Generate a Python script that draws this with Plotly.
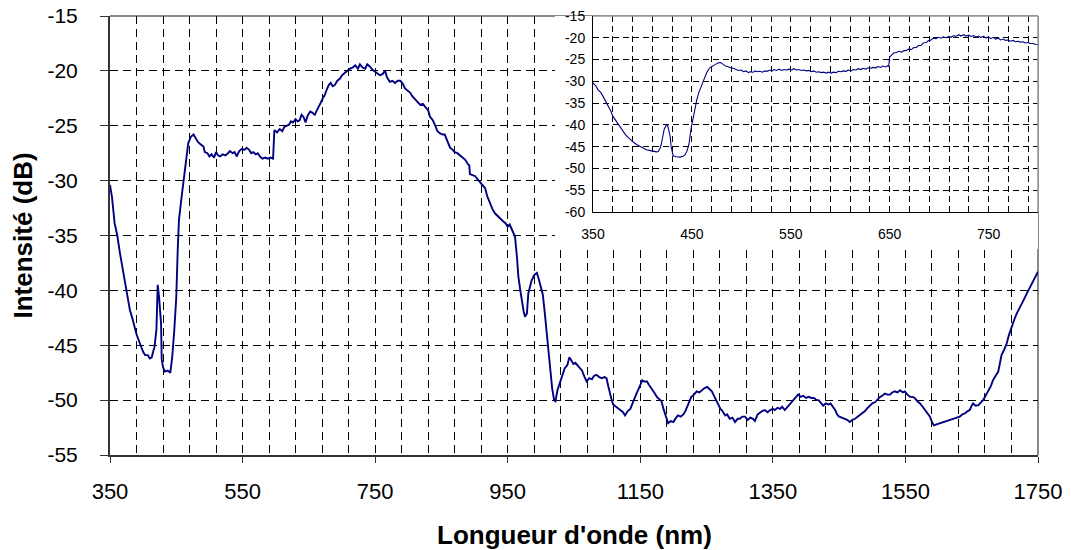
import plotly.graph_objects as go

# ---- main spectrum ----
main_nm = [350,353,357,361,365,369,373,377,380,384,387,390,393,397,400,403,407,410,413,415,417,420,422,424,427,428,430,433,437,441,444,447,450,452,454,458,462,465,468,472,476,480,483,487,491,493,497,500,503,507,510,513,516,520,524,528,531,535,538,541,545,549,553,556,560,563,566,570,573,576,580,584,588,592,596,598,602,606,610,613,616,620,623,626,630,633,636,639,642,645,648,652,655,659,662,665,668,671,674,677,680,683,686,689,693,697,700,704,708,712,716,720,724,727,731,735,738,742,746,750,753,757,761,765,768,772,776,780,784,788,792,795,799,803,806,810,814,818,822,826,830,833,837,840,844,848,852,855,859,863,867,870,874,878,882,886,890,892,893,897,901,905,908,912,916,919,923,927,931,934,936,940,943,947,950,953,957,961,964,966,969,971,974,976,979,981,984,986,990,994,997,1000,1003,1006,1010,1014,1017,1020,1022,1025,1028,1031,1034,1036,1040,1043,1046,1049,1052,1055,1058,1062,1066,1069,1073,1077,1080,1084,1088,1092,1096,1099,1102,1104,1107,1109,1113,1117,1120,1124,1127,1131,1135,1138,1142,1145,1148,1151,1153,1156,1160,1163,1167,1171,1175,1179,1182,1185,1188,1192,1196,1200,1204,1207,1211,1215,1218,1221,1224,1227,1231,1235,1239,1243,1247,1251,1255,1258,1262,1265,1268,1271,1274,1278,1281,1285,1289,1293,1297,1300,1304,1308,1312,1316,1320,1323,1327,1331,1334,1338,1342,1346,1350,1353,1357,1361,1364,1368,1372,1376,1380,1384,1388,1392,1396,1400,1404,1408,1412,1416,1419,1423,1426,1430,1434,1437,1441,1444,1447,1450,1454,1458,1462,1466,1470,1474,1478,1481,1485,1489,1493,1497,1500,1504,1508,1512,1515,1519,1523,1527,1530,1534,1538,1542,1546,1549,1553,1557,1561,1564,1568,1572,1576,1580,1584,1587,1590,1593,1597,1602,1606,1610,1614,1617,1621,1625,1629,1632,1636,1640,1644,1647,1650,1652,1656,1660,1664,1667,1671,1675,1679,1682,1686,1690,1693,1695,1699,1703,1706,1710,1714,1718,1721,1725,1729,1733,1737,1741,1745,1748,1750]
main_db = [-30.4,-31.5,-33.9,-35.0,-36.6,-38.0,-39.3,-40.6,-41.8,-42.6,-43.4,-44.0,-44.5,-45.2,-45.6,-45.9,-45.9,-46.2,-46.1,-45.6,-45.2,-43.6,-39.5,-40.6,-43.0,-46.3,-47.0,-47.4,-47.3,-47.5,-46.0,-43.6,-40.6,-36.6,-33.6,-31.5,-29.3,-27.8,-26.6,-26.0,-25.8,-26.2,-26.5,-26.7,-26.9,-27.4,-27.5,-27.8,-27.6,-27.9,-27.4,-27.7,-27.8,-27.6,-27.7,-27.5,-27.3,-27.5,-27.4,-27.8,-27.3,-27.1,-27.2,-27.0,-27.2,-27.5,-27.4,-27.6,-27.5,-27.8,-28.0,-27.9,-28.0,-27.9,-28.0,-25.4,-25.6,-25.3,-25.5,-25.1,-25.0,-24.9,-24.6,-24.7,-24.4,-24.6,-24.5,-24.0,-24.2,-24.7,-24.1,-23.7,-23.8,-24.0,-23.6,-23.3,-22.9,-22.5,-22.2,-21.7,-21.3,-21.1,-21.4,-21.3,-20.9,-20.7,-20.4,-20.2,-20.0,-19.8,-19.7,-19.5,-19.8,-19.4,-19.7,-19.8,-19.4,-19.6,-19.9,-20.1,-20.2,-20.4,-20.3,-20.0,-20.6,-21.0,-20.9,-21.1,-20.9,-20.9,-21.2,-21.6,-21.8,-22.0,-22.3,-22.6,-22.8,-23.1,-23.0,-23.3,-23.6,-24.2,-24.5,-24.9,-25.5,-25.7,-25.8,-25.8,-26.5,-27.0,-27.2,-27.4,-27.5,-27.7,-27.9,-28.1,-28.5,-28.6,-29.4,-29.5,-29.6,-29.9,-30.1,-30.4,-30.7,-31.4,-32.1,-32.6,-33.0,-33.2,-33.3,-33.6,-33.7,-33.9,-34.2,-34.0,-34.6,-35.1,-37.0,-38.7,-40.0,-40.9,-41.9,-42.4,-42.1,-40.3,-39.6,-39.1,-38.6,-38.4,-39.0,-39.8,-40.4,-42.1,-44.5,-47.3,-48.9,-50.0,-50.1,-49.1,-48.6,-47.9,-47.6,-47.1,-46.8,-46.1,-46.4,-46.7,-46.6,-46.8,-47.0,-47.3,-47.9,-48.3,-48.0,-48.1,-47.8,-47.7,-47.9,-48.0,-47.9,-48.0,-48.8,-49.4,-50.0,-50.4,-50.6,-50.8,-50.9,-51.1,-51.4,-51.0,-50.8,-50.3,-49.7,-49.3,-48.9,-48.4,-48.2,-48.3,-48.3,-48.6,-48.9,-49.3,-49.7,-49.9,-50.1,-50.8,-51.3,-52.1,-51.9,-52.0,-51.6,-51.4,-51.5,-51.3,-51.0,-50.6,-50.2,-49.7,-49.5,-49.2,-49.3,-49.1,-48.9,-48.8,-49.0,-49.2,-49.7,-50.1,-50.5,-50.8,-51.0,-51.4,-51.3,-51.7,-51.6,-52.0,-51.7,-51.7,-51.5,-51.5,-51.8,-51.6,-51.7,-51.9,-51.3,-51.1,-51.0,-50.9,-51.1,-50.9,-50.8,-50.9,-50.7,-50.8,-50.6,-50.9,-50.6,-50.4,-50.0,-49.8,-49.5,-49.7,-49.6,-49.8,-49.7,-49.8,-49.8,-50.0,-50.0,-50.3,-50.5,-50.3,-50.4,-50.3,-50.6,-50.9,-51.3,-51.5,-51.6,-51.7,-51.8,-52.0,-51.8,-51.7,-51.5,-51.4,-51.2,-51.0,-50.7,-50.5,-50.3,-50.2,-49.9,-49.7,-49.6,-49.4,-49.5,-49.5,-49.3,-49.2,-49.3,-49.1,-49.3,-49.2,-49.5,-49.7,-49.7,-49.8,-50.1,-50.3,-50.6,-50.9,-51.2,-51.5,-52.0,-52.3,-52.2,-52.1,-52.0,-51.9,-51.8,-51.75,-51.7,-51.6,-51.5,-51.5,-51.3,-51.2,-51.0,-50.9,-50.5,-50.3,-50.5,-50.45,-50.2,-50.0,-49.6,-49.2,-48.7,-48.2,-47.8,-47.4,-46.5,-45.9,-45.4,-44.8,-44.1,-43.3,-42.7,-42.1,-41.7,-41.2,-40.8,-40.3,-39.8,-39.35,-38.9,-38.45,-38.3]

# ---- inset spectrum 350-800 nm ----
inset_nm = [350,353,355,358,360,363,366,368,370,373,376,378,381,383,386,388,391,394,398,401,404,408,411,414,416,418,419,421,422,424,425,426,428,429,430,431,434,438,441,443,445,447,449,451,453,455,457,459,462,465,468,471,474,476,479,481,484,486,489,492,495,497,500,502,505,507,509,512,514,516,519,521,524,526,529,531,533,536,538,541,543,546,548,551,553,556,558,561,563,566,568,571,573,576,578,581,583,586,588,591,593,596,598,601,603,606,608,611,613,616,618,621,623,626,628,631,633,636,638,641,643,646,648,649,650,652,654,657,659,662,664,667,669,672,674,677,679,682,684,687,689,692,694,697,699,702,704,707,710,712,715,717,720,722,725,727,730,732,735,737,740,742,745,747,750,752,755,757,760,762,765,767,770,772,775,777,780,782,785,787,790,792,795,797,800]
inset_db = [-30.35,-31.1,-31.9,-32.6,-33.4,-34.6,-35.7,-36.8,-38.0,-39.0,-40.0,-40.8,-41.5,-42.3,-43.0,-43.5,-44.0,-44.5,-45.0,-45.4,-45.7,-45.9,-46.1,-46.2,-46.1,-45.3,-44.5,-42.3,-41.0,-40.1,-40.0,-40.6,-42.6,-45.0,-46.4,-47.1,-47.3,-47.4,-47.2,-46.9,-46.0,-44.5,-41.1,-38.5,-36.2,-34.2,-32.6,-31.5,-30.0,-28.0,-26.9,-26.4,-26.1,-25.8,-25.7,-26.0,-26.5,-26.6,-26.9,-27.0,-27.3,-27.5,-27.4,-27.8,-27.6,-28.0,-27.8,-27.9,-27.6,-27.8,-27.7,-27.9,-27.6,-27.7,-27.4,-27.6,-27.3,-27.5,-27.2,-27.5,-27.3,-27.4,-27.2,-27.4,-27.1,-27.4,-27.3,-27.5,-27.4,-27.6,-27.5,-27.8,-27.6,-27.9,-27.8,-28.0,-27.9,-28.1,-27.9,-28.1,-27.9,-28.0,-27.7,-27.8,-27.6,-27.7,-27.4,-27.6,-27.3,-27.4,-27.1,-27.3,-27.0,-27.2,-26.9,-27.0,-26.8,-26.9,-26.6,-26.8,-26.5,-26.7,-26.4,-26.6,-24.4,-24.0,-23.5,-23.4,-23.1,-23.3,-23.0,-22.9,-22.6,-22.7,-22.3,-22.2,-21.8,-21.7,-21.2,-21.1,-20.7,-20.5,-20.1,-20.2,-19.9,-20.1,-19.8,-20.0,-19.7,-19.9,-19.5,-19.7,-19.3,-19.6,-19.3,-19.6,-19.4,-19.7,-19.5,-19.8,-19.6,-19.9,-19.7,-20.0,-19.8,-20.2,-19.9,-20.3,-20.1,-20.5,-20.3,-20.6,-20.5,-20.8,-20.6,-20.9,-20.8,-21.0,-20.9,-21.2,-21.1,-21.3,-21.3,-21.5,-21.6]

main_xticks = [350, 550, 750, 950, 1150, 1350, 1550, 1750]
main_yticks = [-15, -20, -25, -30, -35, -40, -45, -50, -55]
inset_xticks = [350, 450, 550, 650, 750]
inset_yticks = [-15, -20, -25, -30, -35, -40, -45, -50, -55, -60]

FONT = "Arial, 'Liberation Sans', sans-serif"
LINE = "#000080"

W, H = 1071, 550
PL, PR, PT, PB = 110, 1038, 16, 455          # plot area in page pixels
L, T, R, B = PL, PT, W - PR, H - PB
PW, PH = PR - PL, PB - PT

def px_x(p):
    return (p - PL) / PW

def px_y(p):
    return (PB - p) / PH

fig = go.Figure()
fig.add_trace(go.Scatter(x=main_nm, y=main_db, mode="lines",
                         line=dict(color=LINE, width=1.9), showlegend=False))
# invisible subplot used as white backing behind the inset
fig.add_trace(go.Scatter(x=[0], y=[0], mode="markers", marker=dict(opacity=0),
                         xaxis="x2", yaxis="y2", showlegend=False, hoverinfo="skip"))
fig.add_trace(go.Scatter(x=inset_nm, y=inset_db, mode="lines",
                         line=dict(color=LINE, width=1.1), showlegend=False,
                         xaxis="x3", yaxis="y3"))

grid_main = dict(gridcolor="#000", gridwidth=1, griddash="8px,5px")
grid_in = dict(gridcolor="#000", gridwidth=1, griddash="6px,4px")

fig.update_layout(
    width=W, height=H,
    margin=dict(l=L, r=R, t=T, b=B, pad=0, autoexpand=False),
    paper_bgcolor="white", plot_bgcolor="white",
    font=dict(family=FONT, color="#000"),
    xaxis=dict(range=[350, 1750], tickvals=main_xticks,
               ticktext=[str(v) for v in main_xticks], showgrid=True, **grid_main,
               minor=dict(tick0=350, dtick=40, showgrid=True, ticks="", **grid_main),
               ticks="outside", ticklen=6, tickcolor="#333", ticklabelstandoff=10,
               tickfont=dict(size=22), showline=True, linecolor="#333", linewidth=2,
               zeroline=False, automargin=False, ticklabeloverflow="allow"),
    yaxis=dict(range=[-55, -15], tickvals=main_yticks,
               ticktext=[str(v) for v in main_yticks], showgrid=True, **grid_main,
               ticks="outside", ticklen=8, tickcolor="#333", ticklabelstandoff=18,
               tickfont=dict(size=21), showline=True, linecolor="#333", linewidth=2,
               zeroline=False, automargin=False, ticklabeloverflow="allow"),
    xaxis2=dict(domain=[px_x(555), 1], range=[0, 1], visible=False, anchor="y2",
                automargin=False),
    yaxis2=dict(domain=[px_y(249), 1], range=[0, 1], visible=False, anchor="x2",
                automargin=False),
    xaxis3=dict(domain=[px_x(593), 1], range=[350, 800], tickvals=inset_xticks,
                ticktext=[str(v) for v in inset_xticks],
                showgrid=True, **grid_in,
                minor=dict(tick0=350, dtick=20, showgrid=True, ticks="", **grid_in),
                ticks="", ticklabelstandoff=9, tickfont=dict(size=14),
                showline=True, linecolor="#000", linewidth=1, zeroline=False,
                anchor="y3", automargin=False, ticklabeloverflow="allow"),
    yaxis3=dict(domain=[px_y(212), 1], range=[-60, -15], tickvals=inset_yticks,
                ticktext=[str(v) for v in inset_yticks],
                showgrid=True, **grid_in, ticks="", ticklabelstandoff=4,
                tickfont=dict(size=14), showline=True, linecolor="#000", linewidth=1,
                zeroline=False, anchor="x3", automargin=False,
                ticklabeloverflow="allow"),
    annotations=[
        dict(text="<b>Intensité (dB)</b>", xref="paper", yref="paper",
             x=px_x(22), y=0.5, textangle=-90, showarrow=False,
             font=dict(size=26), xanchor="center", yanchor="middle"),
        dict(text="<b>Longueur d'onde (nm)</b>", xref="paper", yref="paper",
             x=0.5, y=px_y(535), showarrow=False, font=dict(size=26),
             xanchor="center", yanchor="middle"),
    ],
    shapes=[
        dict(type="line", xref="paper", yref="paper", x0=0, x1=1, y0=1, y1=1,
             line=dict(color="#888", width=2), layer="below"),
        dict(type="line", xref="paper", yref="paper", x0=1, x1=1, y0=0, y1=1,
             line=dict(color="#888", width=2), layer="below"),
        dict(type="line", xref="x3 domain", yref="y3 domain", x0=0, x1=1, y0=1, y1=1,
             line=dict(color="#999", width=1.5), layer="above"),
        dict(type="line", xref="x3 domain", yref="y3 domain", x0=1, x1=1, y0=0, y1=1,
             line=dict(color="#999", width=1.5), layer="above"),
    ],
)

# remove the default 8px page margin so the figure fills the window exactly
fig.write_html("out.html", config={"displayModeBar": False},
               post_script="document.body.style.margin='0';")
